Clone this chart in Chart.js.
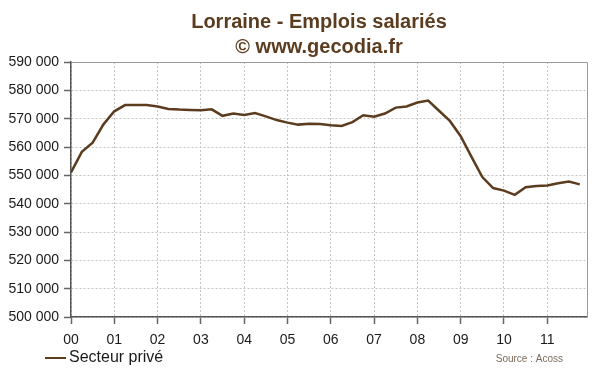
<!DOCTYPE html>
<html>
<head>
<meta charset="utf-8">
<script src="https://cdn.jsdelivr.net/npm/chart.js@4.4.0/dist/chart.umd.min.js"></script>
<style>
  html, body { margin: 0; padding: 0; background: #fff; }
</style>
</head>
<body>
<canvas id="grafico" width="600" height="372"></canvas>
<script>
// annees sur l'axe x (une graduation tous les 4 trimestres)
const annees = ['00', '01', '02', '03', '04', '05', '06', '07', '08', '09', '10', '11'];
// emplois salaries du secteur prive, un point par trimestre (2000 T1 -> 2011 T4)
const secteurPrive = [
  551000, 558300, 561500, 568000, 572600, 574800, 574800, 574800,
  574300, 573400, 573200, 573100, 573000, 573300, 571000, 571800,
  571300, 572000, 570800, 569500, 568600, 567900, 568200, 568100,
  567700, 567400, 568800, 571200, 570700, 571800, 573900, 574300,
  575700, 576400, 572800, 569200, 563800, 556500, 549400, 545500,
  544600, 543100, 545800, 546200, 546400, 547200, 547800, 546800
];
const titre = ['Lorraine - Emplois salariés', '© www.gecodia.fr'];
const nomSerie = 'Secteur privé';
const source = 'Source : Acoss';

const brun = '#5c3c1f';

// points {x: trimestre, y: valeur}
const points = secteurPrive.map(function (v, i) { return { x: i, y: v }; });

// titre, legende, source et cadre haut/droite
const decor = {
  id: 'decor',
  beforeDatasetsDraw(chart) {
    const ctx = chart.ctx, a = chart.chartArea;
    ctx.save();
    ctx.strokeStyle = '#9a9a9a';
    ctx.lineWidth = 1;
    ctx.beginPath();
    ctx.moveTo(a.left, a.top + 0.5);
    ctx.lineTo(a.right + 0.5, a.top + 0.5);
    ctx.lineTo(a.right + 0.5, a.bottom);
    ctx.stroke();
    ctx.restore();
  },
  afterDraw(chart) {
    const ctx = chart.ctx;
    ctx.save();
    ctx.fillStyle = brun;
    ctx.font = 'bold 20px "Liberation Sans", Arial, sans-serif';
    ctx.textAlign = 'center';
    ctx.textBaseline = 'alphabetic';
    ctx.fillText(titre[0], 319, 28);
    ctx.fillText(titre[1], 319, 53);

    // legende
    ctx.strokeStyle = brun;
    ctx.lineWidth = 2;
    ctx.beginPath();
    ctx.moveTo(45, 358);
    ctx.lineTo(66, 358);
    ctx.stroke();
    ctx.fillStyle = '#1a1a1a';
    ctx.font = '16px "Liberation Sans", Arial, sans-serif';
    ctx.textAlign = 'left';
    ctx.textBaseline = 'middle';
    ctx.fillText(nomSerie, 69, 358);

    ctx.fillStyle = '#7a6a5a';
    ctx.font = '10px "Liberation Sans", Arial, sans-serif';
    ctx.textAlign = 'right';
    ctx.fillText(source, 563, 359);
    ctx.restore();
  }
};

const config = {
  type: 'line',
  data: {
    datasets: [{
      label: nomSerie,
      data: points,
      borderColor: brun,
      borderWidth: 2.5,
      pointRadius: 0,
      tension: 0,
      fill: false
    }]
  },
  options: {
    responsive: false,
    animation: false,
    layout: { padding: { left: 0, right: 13, top: 62, bottom: 0 } },
    plugins: {
      legend: { display: false },
      title: { display: false },
      tooltip: { enabled: false }
    },
    scales: {
      x: {
        type: 'linear',
        min: 0,
        max: 47.67,
        // une graduation par annee
        afterBuildTicks: function (scale) {
          scale.ticks = annees.map(function (a, i) { return { value: i * 4 }; });
        },
        afterFit: function (scale) { scale.height = 55; },
        ticks: {
          autoSkip: false,
          maxRotation: 0,
          padding: 8,
          color: '#1a1a1a',
          font: { family: '"Liberation Sans", Arial, sans-serif', size: 14 },
          callback: function (v) { return annees[Math.round(v / 4)]; }
        },
        grid: {
          color: '#c4c4c4',
          tickColor: '#666',
          tickLength: 7,
          tickWidth: 1.5
        },
        border: { color: '#555', width: 1.5, dash: [2, 2] }
      },
      y: {
        min: 500000,
        max: 590000,
        afterFit: function (scale) { scale.width = 71; },
        ticks: {
          stepSize: 10000,
          padding: 5,
          color: '#1a1a1a',
          font: { family: '"Liberation Sans", Arial, sans-serif', size: 14 },
          callback: function (v) { return Math.round(v / 1000) + ' 000'; }
        },
        grid: {
          color: '#c4c4c4',
          tickColor: '#666',
          tickLength: 7,
          tickWidth: 1.5
        },
        border: { color: '#555', width: 1.5, dash: [2, 2] }
      }
    }
  },
  plugins: [decor]
};

window.onload = function () {
  const ctx = document.getElementById('grafico').getContext('2d');
  window.graficoLorraine = new Chart(ctx, config);
};
</script>
</body>
</html>
